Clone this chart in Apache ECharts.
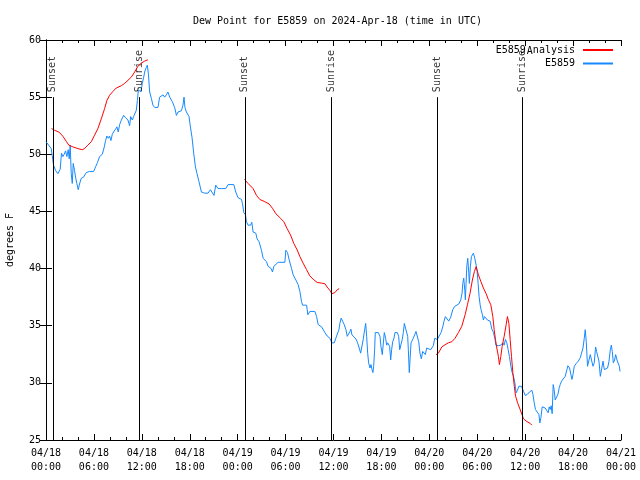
<!DOCTYPE html>
<html><head><meta charset="utf-8">
<script src="https://cdn.jsdelivr.net/npm/echarts@6/dist/echarts.min.js"></script>
<style>html,body{margin:0;padding:0;background:#fff}#c{width:640px;height:480px}</style>
</head><body><div id="c"></div>
<script>
const tickLabels = ['04/18\n00:00','04/18\n06:00','04/18\n12:00','04/18\n18:00','04/19\n00:00','04/19\n06:00','04/19\n12:00','04/19\n18:00','04/20\n00:00','04/20\n06:00','04/20\n12:00','04/20\n18:00','04/21\n00:00'];
const sunHours = [0.85, 11.68, 24.9, 35.7, 48.97, 59.6];
const sunNames = ['Sunset','Sunrise','Sunset','Sunrise','Sunset','Sunrise'];
// hours since 04/18 00:00 UTC, dew point F
const observed = [[0,51.1],[0.23,51.0],[0.65,50.5],[0.78,49.9],[0.94,49.05],[1.19,48.6],[1.48,48.3],[1.78,48.7],[1.94,50.1],[2.11,49.8],[2.28,50.0],[2.45,50.3],[2.61,49.8],[2.78,50.4],[2.91,49.6],[3.03,50.8],[3.16,48.3],[3.29,47.45],[3.41,49.2],[3.57,48.6],[3.70,48.0],[3.86,47.45],[4.04,46.9],[4.20,47.4],[4.41,47.9],[4.70,48.0],[5.04,48.4],[5.45,48.5],[5.96,48.5],[6.21,48.9],[6.46,49.3],[6.71,49.8],[7.05,50.0],[7.30,50.65],[7.46,51.2],[7.62,51.6],[7.80,51.4],[7.96,51.6],[8.13,51.2],[8.30,51.75],[8.46,51.95],[8.71,52.2],[8.88,52.4],[9.05,51.95],[9.22,52.6],[9.43,52.98],[9.72,53.4],[9.97,53.2],[10.26,53.0],[10.47,52.5],[10.60,53.3],[10.81,53.0],[10.97,53.3],[11.13,53.4],[11.31,53.85],[11.44,54.7],[11.56,55.6],[11.72,55.7],[11.89,55.5],[12.06,56.2],[12.23,56.75],[12.39,57.3],[12.56,57.6],[12.69,57.8],[12.82,57.05],[12.98,55.45],[13.19,54.9],[13.39,54.3],[13.61,54.1],[14.02,54.1],[14.23,55.0],[14.45,54.9],[14.65,55.2],[14.86,55.0],[15.07,55.2],[15.27,55.45],[15.49,55.0],[15.82,54.6],[16.11,54.1],[16.33,53.4],[16.53,53.7],[16.95,53.8],[17.15,54.3],[17.28,55.0],[17.40,54.1],[17.58,53.7],[17.91,53.3],[18.08,52.4],[18.28,51.5],[18.50,50.07],[18.71,48.9],[18.91,48.3],[19.16,47.6],[19.46,46.7],[19.87,46.6],[20.29,46.6],[20.59,46.9],[20.84,47.0],[21.04,46.4],[21.25,47.3],[21.54,47.0],[21.97,47.0],[22.51,47.0],[22.80,47.35],[23.51,47.35],[23.76,46.7],[24.05,46.2],[24.48,46.05],[24.60,45.7],[24.77,44.9],[24.98,44.7],[25.10,44.1],[25.30,43.8],[25.61,43.8],[25.77,44.05],[25.93,43.2],[26.27,43.1],[26.43,42.6],[26.68,42.35],[26.98,41.6],[27.19,40.9],[27.40,41.05],[27.61,40.6],[27.81,40.2],[28.02,40.3],[28.19,40.0],[28.36,39.7],[28.53,40.2],[28.78,40.2],[29.07,40.55],[29.91,40.55],[30.03,41.6],[30.24,41.4],[30.45,40.76],[30.75,40.0],[30.95,39.45],[31.29,39.0],[31.57,38.6],[31.79,38.0],[32.00,37.1],[32.13,36.8],[32.63,36.8],[32.79,35.96],[33.04,36.25],[33.67,36.25],[33.88,35.8],[34.08,35.1],[34.51,34.9],[34.92,34.4],[35.21,34.1],[35.55,33.9],[35.80,33.5],[36.09,33.5],[36.39,34.1],[36.68,34.65],[36.80,35.2],[36.96,35.67],[37.14,35.4],[37.34,35.1],[37.56,34.65],[37.72,34.07],[37.89,34.07],[38.06,34.5],[38.18,34.7],[38.31,34.2],[38.56,34.07],[38.81,33.84],[39.02,33.5],[39.22,33.05],[39.40,32.6],[39.56,32.47],[39.72,33.8],[39.90,34.65],[40.03,35.2],[40.15,34.07],[40.28,32.6],[40.40,31.75],[40.57,31.3],[40.69,31.6],[40.82,31.16],[40.94,30.9],[41.03,31.45],[41.15,32.9],[41.23,34.4],[41.40,34.4],[41.61,34.4],[41.82,34.07],[41.94,33.2],[42.11,32.47],[42.23,32.6],[42.36,34.4],[42.53,33.9],[42.66,33.3],[42.78,33.5],[42.91,33.6],[43.03,33.2],[43.16,32.0],[43.28,32.9],[43.41,33.6],[43.57,33.9],[43.70,34.4],[43.99,34.4],[44.16,34.07],[44.29,32.9],[44.45,32.75],[44.61,33.8],[44.74,34.4],[44.87,35.2],[45.12,35.2],[45.29,34.07],[45.37,32.9],[45.49,30.9],[45.58,32.0],[45.71,33.5],[45.83,33.6],[45.99,33.9],[46.17,33.8],[46.33,34.5],[46.55,34.4],[46.67,33.6],[46.83,32.6],[47.00,32.1],[47.17,32.75],[47.34,32.6],[47.50,32.47],[47.67,33.05],[47.92,33.05],[48.17,32.9],[48.34,33.05],[48.50,33.25],[48.68,33.9],[48.84,33.84],[49.00,33.8],[49.25,33.9],[49.47,34.4],[49.68,34.9],[49.84,35.4],[50.01,35.8],[50.18,35.67],[50.43,35.4],[50.68,35.75],[50.93,36.4],[51.19,36.7],[51.35,36.83],[51.69,36.9],[51.94,37.27],[52.10,37.85],[52.19,38.7],[52.31,39.16],[52.44,38.1],[52.51,37.27],[52.60,38.7],[52.69,40.2],[52.81,40.9],[52.94,39.6],[53.01,38.7],[53.14,40.2],[53.27,41.05],[53.39,41.2],[53.52,41.35],[53.69,40.9],[53.86,40.3],[53.98,39.74],[54.11,38.7],[54.23,37.56],[54.36,36.83],[54.48,36.4],[54.65,35.96],[54.77,35.5],[54.90,35.8],[55.11,35.67],[55.27,35.5],[55.45,35.67],[55.61,35.4],[55.83,34.7],[56.03,34.4],[56.20,33.9],[56.33,33.3],[56.45,33.3],[56.65,33.25],[56.95,33.3],[57.20,33.5],[57.37,33.3],[57.53,33.8],[57.70,33.5],[57.87,32.9],[58.03,32.3],[58.21,31.45],[58.37,30.9],[58.53,30.6],[58.71,30.0],[58.87,29.13],[59.03,29.35],[59.21,29.7],[59.37,29.56],[59.54,29.7],[59.71,29.8],[59.79,29.27],[60.00,28.9],[60.29,29.0],[60.54,29.2],[60.84,29.35],[60.97,29.0],[61.13,28.26],[61.29,27.67],[61.54,27.52],[61.72,27.23],[61.84,26.5],[61.97,26.95],[62.13,27.9],[62.51,27.8],[62.72,27.73],[62.88,27.38],[63.01,27.9],[63.13,27.67],[63.26,28.0],[63.38,27.3],[63.51,29.85],[63.63,29.4],[63.76,28.5],[63.97,28.5],[64.10,29.0],[64.26,29.56],[64.39,29.85],[64.55,30.14],[64.80,30.14],[65.01,30.57],[65.23,31.16],[65.35,31.5],[65.56,31.3],[65.73,30.7],[65.86,30.3],[65.98,30.7],[66.15,31.45],[66.40,31.7],[66.65,31.9],[66.90,32.2],[67.06,32.6],[67.24,33.05],[67.40,33.9],[67.52,34.65],[67.65,33.6],[67.81,31.45],[68.02,31.45],[68.15,32.47],[68.31,32.6],[68.49,31.45],[68.65,31.75],[68.82,33.14],[68.94,32.75],[69.07,32.9],[69.24,31.9],[69.41,30.57],[69.62,30.57],[69.75,31.9],[69.91,31.16],[70.16,31.16],[70.32,31.3],[70.50,31.9],[70.66,32.9],[70.79,33.3],[70.91,32.75],[71.04,31.75],[71.20,32.0],[71.33,32.47],[71.50,32.0],[71.67,31.9],[71.79,31.45],[71.88,31.0]];
const analysis1 = [[0.69,52.25],[1.07,52.1],[1.61,51.95],[2.11,51.58],[2.53,51.14],[2.86,50.8],[3.36,50.65],[3.99,50.5],[4.54,50.4],[4.83,50.5],[5.24,50.8],[5.67,51.1],[6.08,51.67],[6.50,52.25],[6.92,53.1],[7.34,54.0],[7.62,54.7],[7.96,55.16],[8.38,55.5],[8.80,55.8],[9.43,56.0],[9.84,56.2],[10.26,56.47],[10.68,56.75],[11.10,57.2],[11.51,57.7],[11.94,57.98],[12.35,58.15],[12.76,58.27]];
const analysis2 = [[24.85,47.8],[25.30,47.45],[25.93,47.0],[26.36,46.4],[26.77,46.05],[27.40,45.85],[27.94,45.65],[28.36,45.27],[28.78,44.8],[29.37,44.4],[29.78,44.1],[30.19,43.5],[30.62,42.94],[31.03,42.2],[31.45,41.63],[31.79,41.05],[32.20,40.47],[32.63,39.9],[33.04,39.36],[33.45,39.07],[33.96,38.78],[34.51,38.73],[34.92,38.67],[35.21,38.38],[35.55,38.08],[35.80,37.8],[36.18,37.9],[36.46,38.14],[36.71,38.25]];
const analysis3 = [[48.84,32.47],[49.13,32.6],[49.56,33.14],[49.97,33.34],[50.38,33.5],[50.81,33.6],[51.22,33.9],[51.64,34.4],[52.06,34.94],[52.48,35.96],[52.77,36.83],[53.10,37.85],[53.39,39.0],[53.64,39.74],[53.86,40.17],[54.15,39.45],[54.45,38.87],[54.77,38.3],[55.11,37.8],[55.40,37.27],[55.70,36.83],[55.95,35.8],[56.12,34.65],[56.28,33.8],[56.45,33.05],[56.65,32.3],[56.78,31.6],[56.95,32.3],[57.12,33.2],[57.37,34.07],[57.62,35.1],[57.78,35.8],[57.96,35.2],[58.12,33.8],[58.29,32.3],[58.46,30.87],[58.64,29.7],[58.80,28.83],[59.05,28.26],[59.30,27.8],[59.60,27.23],[59.79,26.86],[60.13,26.65],[60.63,26.45],[60.84,26.3]];

const FONT = 'DejaVu Sans Mono';
const RED = '#ff0000', BLUE = '#1689ff';
const chart = echarts.init(document.getElementById('c'), null, {renderer:'canvas'});
const axisCommon = {
  axisLine:{show:true, lineStyle:{color:'#000', width:1}},
  axisTick:{show:true, inside:true, length:6, lineStyle:{color:'#000'}},
  splitLine:{show:false}
};
const analysisSeries = [analysis1, analysis2, analysis3].map(d => ({
  name:'E5859_Analysis', type:'line', data:d, symbol:'none', color:RED,
  lineStyle:{color:RED, width:1}, z:3, animation:false
}));
const option = {
  animation:false,
  backgroundColor:'#fff',
  title:{text:'Dew Point for E5859 on 2024-Apr-18 (time in UTC)', left:188, top:11,
    textStyle:{fontFamily:FONT, fontSize:10, fontWeight:'normal', color:'#000'}},
  grid:{left:46, right:19, top:40, bottom:40, containLabel:false, outerBoundsMode:'none'},
  legend:{orient:'vertical', right:27, top:44, padding:0, align:'right', itemWidth:30, itemHeight:2, itemGap:1,
    icon:'rect', data:['E5859_Analysis','E5859'],
    formatter: n => n === 'E5859_Analysis' ? 'E5859{s|A}nalysis' : n,
    textStyle:{fontFamily:FONT, fontSize:10, color:'#000', lineHeight:12, padding:[0,3,0,0],
      rich:{s:{fontFamily:FONT, fontSize:10, color:'#000', padding:[3,0,0,1]}}}},
  xAxis:[
    Object.assign({type:'value', min:0, max:72, interval:6, position:'bottom',
      minorTick:{show:true, splitNumber:3, length:3, lineStyle:{color:'#000'}},
      axisLabel:{fontFamily:FONT, fontSize:10, color:'#000', margin:6, lineHeight:14,
        formatter: v => tickLabels[Math.round(v/6)]}}, axisCommon),
    Object.assign({type:'value', min:0, max:72, interval:6, position:'top',
      minorTick:{show:true, splitNumber:3, length:3, lineStyle:{color:'#000'}},
      axisLabel:{show:false}}, axisCommon)
  ],
  yAxis:[
    Object.assign({type:'value', min:25, max:60, interval:5, position:'left',
      name:'degrees F', nameLocation:'middle', nameGap:31, nameRotate:90,
      nameTextStyle:{fontFamily:FONT, fontSize:10, color:'#000'},
      axisLabel:{fontFamily:FONT, fontSize:10, color:'#000', margin:5}}, axisCommon),
    Object.assign({type:'value', min:25, max:60, interval:5, position:'right',
      axisLabel:{show:false}}, axisCommon)
  ],
  series:[
    {name:'sun', type:'line', data:[], symbol:'none', silent:true,
      markLine:{symbol:'none', silent:true, animation:false, label:{show:false},
        lineStyle:{color:'#000', width:1, type:'solid'},
        data: sunHours.map(h => [{coord:[h,25]},{coord:[h,55]}])}},
    {name:'sunlabels', type:'scatter', symbolSize:0, silent:true,
      data: sunHours.map((h,i) => [h, 55, sunNames[i]]),
      label:{show:true, position:'top', distance:5, rotate:90, align:'left', verticalAlign:'middle',
        fontFamily:FONT, fontSize:10, color:'#000', formatter: p => p.value[2]}},
    ...analysisSeries,
    {name:'E5859', type:'line', data:observed, symbol:'none', color:BLUE,
      lineStyle:{color:BLUE, width:1}, z:2}
  ]
};
chart.setOption(option);
</script></body></html>
